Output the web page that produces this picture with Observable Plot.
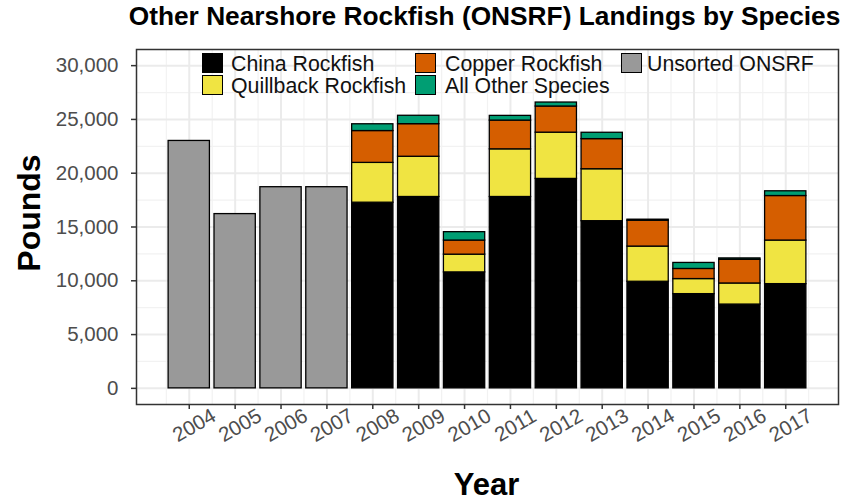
<!DOCTYPE html>
<html>
<head>
<meta charset="utf-8">
<script src="https://cdn.jsdelivr.net/npm/d3@7"></script>
<script src="https://cdn.jsdelivr.net/npm/@observablehq/plot@0.6"></script>
<style>
  html, body { margin: 0; padding: 0; background: #ffffff; }
  #wrap { position: relative; width: 857px; height: 503px; font-family: "Liberation Sans", Arial, sans-serif; }
  .lg-key { width: 21px; height: 20px; box-sizing: border-box; border: 1.6px solid #000; }
  .lg-text { position: absolute; font-size: 21.3px; line-height: 20px; color: #111; white-space: nowrap; }
</style>
</head>
<body>
<div id="wrap"></div>
<script>
// ---- data (pounds) ----
const years = [2004, 2005, 2006, 2007, 2008, 2009, 2010, 2011, 2012, 2013, 2014, 2015, 2016, 2017];
const unsortedYears = [2004, 2005, 2006, 2007];
const unsortedLbs = [23000, 16200, 18700, 18700];
const sortedYears = [2008, 2009, 2010, 2011, 2012, 2013, 2014, 2015, 2016, 2017];
const chinaLbs     = [17260, 17790, 10780, 17790, 19470, 15540, 9910, 8760, 7790, 9690];
const quillbackLbs = [3700, 3740, 1650, 4430, 4300, 4830, 3270, 1400, 1960, 4050];
const copperLbs    = [2960, 3030, 1310, 2670, 2430, 2800, 2400, 940, 2200, 4140];
const otherLbs     = [630, 780, 780, 440, 370, 590, 100, 560, 130, 440];

const speciesNames = ["China Rockfish", "Quillback Rockfish", "Copper Rockfish", "All Other Species", "Unsorted ONSRF"];
const speciesColors = ["#000000", "#F0E442", "#D55E00", "#009E73", "#999999"];

const yTicks = [0, 5000, 10000, 15000, 20000, 25000, 30000];
const yMinor = [2500, 7500, 12500, 17500, 22500, 27500];
const xMinor = [2003.5, 2004.5, 2005.5, 2006.5, 2007.5, 2008.5, 2009.5, 2010.5, 2011.5, 2012.5, 2013.5, 2014.5, 2015.5, 2016.5, 2017.5];

const titleText = "Other Nearshore Rockfish (ONSRF) Landings by Species";
const xTitle = "Year";
const yTitle = "Pounds";

// ---- build stacked rows ----
const barHalf = 0.45;
const rows = [];
unsortedYears.forEach((yr, i) => {
  rows.push({year: yr, species: "Unsorted ONSRF", y1: 0, y2: unsortedLbs[i]});
});
const stackSeries = [
  ["China Rockfish", chinaLbs],
  ["Quillback Rockfish", quillbackLbs],
  ["Copper Rockfish", copperLbs],
  ["All Other Species", otherLbs]
];
sortedYears.forEach((yr, i) => {
  let base = 0;
  for (const [name, arr] of stackSeries) {
    rows.push({year: yr, species: name, y1: base, y2: base + arr[i]});
    base += arr[i];
  }
});

const chart = Plot.plot({
  width: 857,
  height: 503,
  marginTop: 49,
  marginBottom: 99,
  marginLeft: 136,
  marginRight: 19,
  x: {domain: [2002.85, 2018.15]},
  y: {domain: [-1500, 31500]},
  color: {domain: speciesNames, range: speciesColors},
  style: {fontFamily: "'Liberation Sans', Arial, sans-serif", background: "#ffffff", overflow: "visible"},
  marks: [
    Plot.ruleY(yMinor, {stroke: "#F2F2F2", strokeWidth: 1.2}),
    Plot.ruleX(xMinor, {stroke: "#F2F2F2", strokeWidth: 1.2}),
    Plot.ruleY(yTicks, {stroke: "#EBEBEB", strokeWidth: 2}),
    Plot.ruleX(years, {stroke: "#EBEBEB", strokeWidth: 2}),
    Plot.rect(rows, {
      x1: d => d.year - barHalf,
      x2: d => d.year + barHalf,
      y1: "y1",
      y2: "y2",
      fill: "species",
      stroke: "#000000",
      strokeWidth: 1.3
    }),
    Plot.frame({stroke: "#333333", strokeWidth: 1.5}),
    Plot.axisY({ticks: yTicks, tickSize: 5, tickPadding: 13, tickFormat: d3.format(","),
      fontSize: 20.5, color: "#4D4D4D", stroke: "#333333", strokeWidth: 1.5, label: null}),
    Plot.axisX({ticks: years, tickSize: 5, tickFormat: () => "", stroke: "#333333", strokeWidth: 1.5, label: null}),
    Plot.text(years, {x: d => d, text: d => String(d), frameAnchor: "bottom", dx: 5, dy: 21,
      rotate: -30, fontSize: 20.5, fill: "#4D4D4D", textAnchor: "middle", lineAnchor: "middle"}),
    Plot.text([titleText], {frameAnchor: "top", dy: -33, fontSize: 26.3, fontWeight: "bold", fill: "#000",
      textAnchor: "middle", lineAnchor: "middle", dx: -3}),
    Plot.text([xTitle], {frameAnchor: "bottom", dy: 80.5, dx: -1, fontSize: 31, fontWeight: "bold", fill: "#000",
      textAnchor: "middle", lineAnchor: "middle"}),
    Plot.text([yTitle], {frameAnchor: "left", dx: -107, dy: -14, rotate: -90, fontSize: 32, fontWeight: "bold", fill: "#000",
      textAnchor: "middle", lineAnchor: "middle"})
  ]
});

const wrap = document.getElementById("wrap");
wrap.appendChild(chart);

// ---- legend (inside panel, top) ----
const legendLayout = [
  {name: "China Rockfish", key: [202, 53], text: [231, 53]},
  {name: "Quillback Rockfish", key: [202, 75], text: [231, 75]},
  {name: "Copper Rockfish", key: [415, 53], text: [445, 53]},
  {name: "All Other Species", key: [415, 75], text: [445, 75]},
  {name: "Unsorted ONSRF", key: [621, 53], text: [647, 53]}
];
legendLayout.forEach(item => {
  const idx = speciesNames.indexOf(item.name);
  const k = document.createElement("div");
  k.className = "lg-key";
  k.style.position = "absolute";
  k.style.left = item.key[0] + "px";
  k.style.top = item.key[1] + "px";
  k.style.background = speciesColors[idx];
  wrap.appendChild(k);
  const t = document.createElement("div");
  t.className = "lg-text";
  t.style.left = item.text[0] + "px";
  t.style.top = (item.text[1] + 1) + "px";
  t.textContent = item.name;
  wrap.appendChild(t);
});
</script>
</body>
</html>
